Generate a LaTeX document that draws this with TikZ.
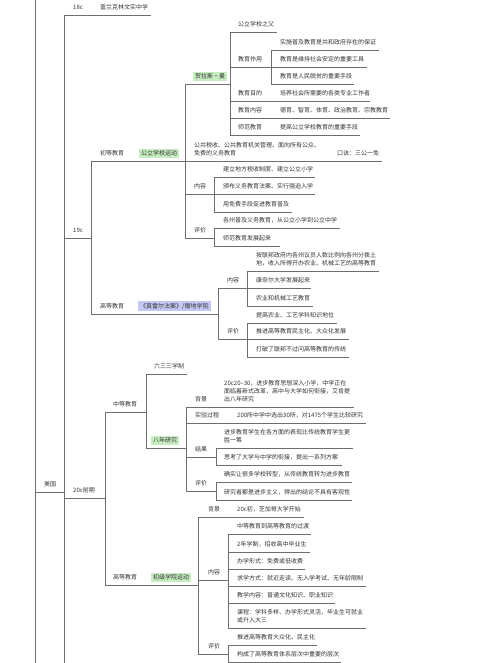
\documentclass[tikz,border=0pt]{standalone}
\usepackage{fontspec}
\setmainfont{Noto Sans CJK SC}
\setlength{\fboxsep}{2pt}
\definecolor{ink}{HTML}{333333}
\definecolor{rule}{HTML}{6E6E6E}
\definecolor{tagg}{HTML}{C6EDC0}
\definecolor{tagb}{HTML}{C4C9F4}
\begin{document}
\begin{tikzpicture}[
  x=1pt, y=-1pt,
  ln/.style={draw=rule, line width=0.7pt},
  pad/.style={execute at begin node={\leftskip=#1pt}},
  item/.style={anchor=south west, inner xsep=0pt, inner ysep=2.5pt, align=left,
    text=ink, font=\fontsize{6}{8}\selectfont, pad=9,
    execute at end node=\strut,
    append after command={(\tikzlastnode.south west) edge[ln] (\tikzlastnode.south east)}}
]
  \useasboundingbox (0,0) rectangle (500,663);
  \coordinate (up) at (35,0);
  \coordinate (down) at (35,663);
  \draw[ln] (up) -- (down);

  \node[item, text width=29pt] (mg) at (35,492) {美国};
  \node[item, text width=27pt] (c18) at (64,15) {18c};
  \node[item, text width=60pt] (fl) at (91,15) {富兰克林文实中学};
  \node[item, text width=27pt] (c19) at (64,238) {19c};
  \node[item, text width=41pt] (c20) at (64,498) {20c前期};
  \draw[ln] (c18.south west) -- (c18.south west |- down);

  \node[item, text width=48pt] (cd) at (91,161) {初等教育};
  \node[item, pad=0, text width=46pt] (gl) at (139,161) {\colorbox{tagg}{公立学校运动}};
  \node[item, text width=47pt] (gd) at (91,314) {高等教育};
  \node[item, pad=0, text width=80pt] (ml) at (138,314) {\colorbox{tagb}{《莫雷尔法案》/赠地学院}};
  \draw[ln] (cd.south west) -- (gd.south west);

  \node[item, pad=8, text width=45pt] (hl) at (185,84) {\colorbox{tagg}{贺拉斯·曼}};
  \node[item, text width=145pt] (gs) at (185,161) {公共税收、公共教育机关管理、面向所有公众、\\免费的义务教育};
  \node[item, pad=7, text width=52pt] (kj) at (330,161) {口诀：三公一免};
  \node[item, text width=29pt] (gn) at (185,194) {内容};
  \node[item, text width=29pt] (gp) at (185,238) {评价};
  \draw[ln] (hl.south west) -- (gp.south west);

  \node[item, pad=8, text width=47pt] (fq) at (230,32) {公立学校之父};
  \node[item, pad=8, text width=41pt] (zy) at (230,67) {教育作用};
  \node[item, pad=8, text width=41pt] (md) at (230,101) {教育目的};
  \node[item, pad=8, text width=41pt] (nr) at (230,118) {教育内容};
  \node[item, pad=8, text width=41pt] (sf) at (230,135) {师范教育};
  \draw[ln] (fq.south west) -- (sf.south west);
  \node[item, text width=108pt] (zy1) at (271,50) {实施普及教育是共和政府存在的保证};
  \node[item, text width=96pt] (zy2) at (271,67) {教育是维持社会安定的重要工具};
  \node[item, text width=83pt] (zy3) at (271,84) {教育是人民脱贫的重要手段};
  \draw[ln] (zy1.south west) -- (zy3.south west);
  \node[item, text width=99pt] (md1) at (271,101) {培养社会所需要的各类专业工作者};
  \node[item, text width=119pt] (nr1) at (271,118) {德育、智育、体育、政治教育、宗教教育};
  \node[item, text width=89pt] (sf1) at (271,135) {提高公立学校教育的重要手段};

  \node[item, text width=101pt] (gn1) at (214,177) {建立地方税收制度、建立公立小学};
  \node[item, text width=101pt] (gn2) at (214,194) {颁布义务教育法案、实行强迫入学};
  \node[item, text width=78pt] (gn3) at (214,212) {用免费手段促进教育普及};
  \draw[ln] (gn1.south west) -- (gn3.south west);
  \node[item, text width=126pt] (gp1) at (214,228) {各州普及义务教育，从公立小学到公立中学};
  \node[item, text width=66pt] (gp2) at (214,246) {师范教育发展起来};
  \draw[ln] (gp1.south west) -- (gp2.south west);

  \node[item, text width=29pt] (mn) at (218,288) {内容};
  \node[item, text width=29pt] (mp) at (218,339) {评价};
  \draw[ln] (mn.south west) -- (mp.south west);
  \node[item, text width=132pt] (mn1) at (247,271) {按联邦政府内各州议员人数比例向各州分拨土\\地，收入所得开办农业、机械工艺的高等教育};
  \node[item, text width=64pt] (mn2) at (247,288) {康奈尔大学发展起来};
  \node[item, text width=66pt] (mn3) at (247,306) {农业和机械工艺教育};
  \draw[ln] (mn1.south west) -- (mn3.south west);
  \node[item, text width=90pt] (mp1) at (247,323) {提高农业、工艺学科知识地位};
  \node[item, text width=102pt] (mp2) at (247,339) {推进高等教育民主化、大众化发展};
  \node[item, text width=102pt] (mp3) at (247,357) {打破了联邦不过问高等教育的传统};
  \draw[ln] (mp1.south west) -- (mp3.south west);

  \node[item, pad=8, text width=41pt] (zd) at (105,412) {中等教育};
  \node[item, pad=8, text width=46pt] (cg) at (105,585) {高等教育};
  \node[item, pad=0, text width=47pt] (cj) at (151,585) {\colorbox{tagg}{初级学院运动}};
  \draw[ln] (zd.south west) -- (cg.south west);
  \node[item, pad=8, text width=41pt] (lsz) at (146,374) {六三三学制};
  \node[item, pad=5, text width=40pt] (bn) at (146,448) {\colorbox{tagg}{八年研究}};
  \draw[ln] (lsz.south west) -- (bn.south west);

  \node[item, text width=34pt] (bj) at (186,407) {背景};
  \node[item, pad=4, text width=134pt] (bj1) at (220,407) {20c20–30，进步教育思想深入小学，中学正在\\面临着新式改革，高中与大学如何衔接，艾肯提\\出八年研究};
  \node[item, text width=42pt] (sy) at (186,423) {实验过程};
  \node[item, text width=138pt] (sy1) at (228,423) {200所中学中选出30所，对1475个学生比较研究};
  \node[item, text width=30pt] (jg) at (186,457) {结果};
  \node[item, text width=30pt] (bp) at (186,491) {评价};
  \draw[ln] (bj.south west) -- (bp.south west);
  \node[item, pad=8, text width=137pt] (jg1) at (216,448) {进步教育学生在各方面的表现比传统教育学生更\\胜一筹};
  \node[item, pad=8, text width=126pt] (jg2) at (216,465) {思考了大学与中学的衔接，提出一系列方案};
  \draw[ln] (jg1.south west) -- (jg2.south west);
  \node[item, pad=8, text width=136pt] (bp1) at (216,482) {确实让很多学校转型，从传统教育转为进步教育};
  \node[item, pad=8, text width=136pt] (bp2) at (216,500) {研究者都是进步主义，得出的结论不具有客观性};
  \draw[ln] (bp1.south west) -- (bp2.south west);

  \node[item, pad=10, text width=30pt] (cb) at (198,517) {背景};
  \node[item, text width=76pt] (cb1) at (228,517) {20c初，芝加哥大学开始};
  \node[item, pad=10, text width=30pt] (cn) at (198,580) {内容};
  \node[item, pad=10, text width=30pt] (cp) at (198,654) {评价};
  \draw[ln] (cb.south west) -- (cp.south west);
  \node[item, text width=83pt] (cn1) at (228,534) {中等教育到高等教育的过渡};
  \node[item, text width=82pt] (cn2) at (228,552) {2年学制，招收高中毕业生};
  \node[item, text width=77pt] (cn3) at (228,569) {办学形式：免费或低收费};
  \node[item, text width=138pt] (cn4) at (228,586) {求学方式：就近走读、无入学考试、无年龄限制};
  \node[item, text width=107pt] (cn5) at (228,603) {教学内容：普通文化知识、职业知识};
  \node[item, text width=138pt] (cn6) at (228,628) {课程：学科多样、办学形式灵活，毕业生可就业\\或升入大三};
  \draw[ln] (cn1.south west) -- (cn6.south west);
  \node[item, text width=89pt] (cp1) at (228,645) {推进高等教育大众化、民主化};
  \node[item, text width=113pt] (cp2) at (228,662) {构成了高等教育体系层次中重要的层次};
  \draw[ln] (cp1.south west) -- (cp2.south west);
\end{tikzpicture}
\end{document}
